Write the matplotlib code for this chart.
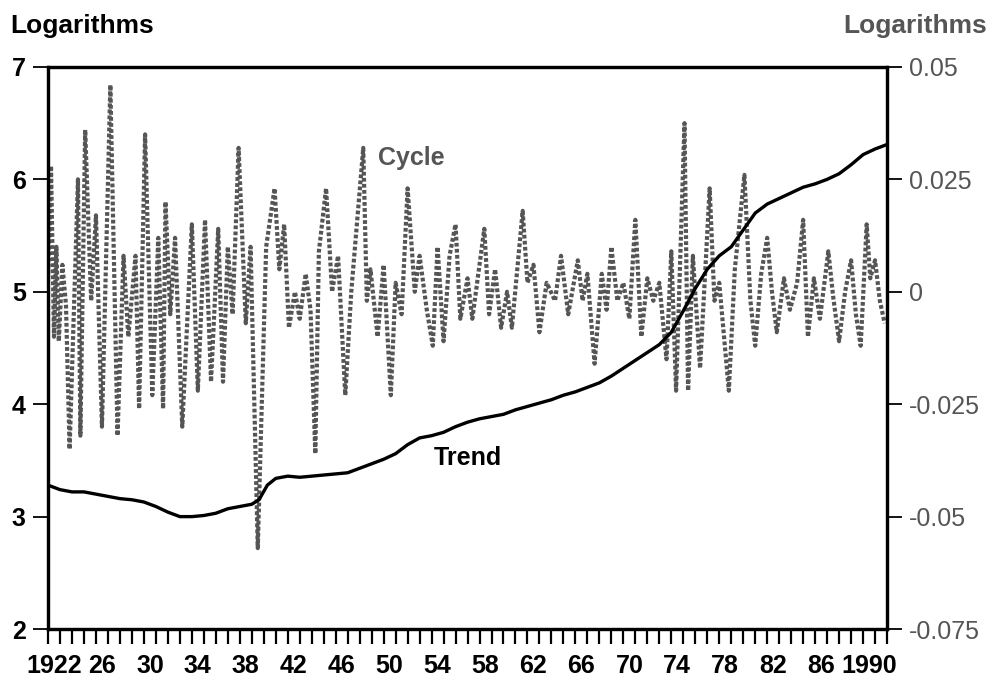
import matplotlib
matplotlib.use("Agg")
import matplotlib.pyplot as plt

# Trend (left axis, logarithms)
trend_years = [1922, 1923, 1924, 1925, 1926, 1927, 1928, 1929, 1930, 1931, 1932, 1933,
               1934, 1935, 1936, 1937, 1938, 1939, 1939.6, 1940.3, 1941, 1942, 1943,
               1944, 1945, 1946, 1947, 1948, 1949, 1950, 1951, 1952, 1953, 1954, 1955,
               1956, 1957, 1958, 1959, 1960, 1961, 1962, 1963, 1964, 1965, 1966, 1967,
               1968, 1969, 1970, 1971, 1972, 1973, 1974, 1975, 1976, 1977, 1978, 1979,
               1980, 1981, 1982, 1983, 1984, 1985, 1986, 1987, 1988, 1989, 1990, 1991,
               1992]
trend_vals = [3.28, 3.24, 3.22, 3.22, 3.20, 3.18, 3.16, 3.15, 3.13, 3.09, 3.04, 3.00,
              3.00, 3.01, 3.03, 3.07, 3.09, 3.11, 3.15, 3.28, 3.34, 3.36, 3.35,
              3.36, 3.37, 3.38, 3.39, 3.43, 3.47, 3.51, 3.56, 3.64, 3.70, 3.72, 3.75,
              3.80, 3.84, 3.87, 3.89, 3.91, 3.95, 3.98, 4.01, 4.04, 4.08, 4.11, 4.15,
              4.19, 4.25, 4.32, 4.39, 4.46, 4.53, 4.64, 4.83, 5.03, 5.20, 5.32, 5.40,
              5.55, 5.70, 5.78, 5.83, 5.88, 5.93, 5.96, 6.00, 6.05, 6.13, 6.22, 6.27,
              6.31]

# Cycle (right axis), turning points
cycle_years = [1922.0, 1922.25, 1922.5, 1922.7, 1922.9, 1923.2, 1923.5, 1923.8, 1924.5, 1924.7,
               1925.1, 1925.6, 1926.0, 1926.5, 1927.2, 1927.8, 1928.3, 1928.7, 1929.3, 1929.6,
               1930.1, 1930.7, 1931.2, 1931.6, 1931.8, 1932.2, 1932.6, 1933.2, 1934.0, 1934.5,
               1935.1, 1935.6, 1936.2, 1936.6, 1937.0, 1937.4, 1937.9, 1938.5, 1938.9, 1939.5,
               1940.2, 1940.9, 1941.3, 1941.7, 1942.1, 1942.6, 1943.0, 1943.5, 1943.9, 1944.3,
               1944.6, 1945.2, 1945.7, 1946.2, 1946.8, 1947.3, 1948.3, 1948.6, 1948.9, 1949.5,
               1950.0, 1950.6, 1951.0, 1951.5, 1952.0, 1952.6, 1953.0, 1953.6, 1954.1, 1954.5,
               1955.0, 1955.5, 1956.0, 1956.4, 1957.0, 1957.4, 1958.4, 1958.8, 1959.3, 1959.8,
               1960.3, 1960.7, 1961.6, 1962.0, 1962.5, 1963.0, 1963.6, 1964.3, 1964.8, 1965.4,
               1966.2, 1966.6, 1967.0, 1967.6, 1968.2, 1968.6, 1969.0, 1969.5, 1970.0, 1970.5,
               1971.0, 1971.5, 1972.0, 1972.5, 1973.0, 1973.6, 1974.0, 1974.4, 1975.1, 1975.4,
               1975.8, 1976.4, 1977.2, 1977.6, 1978.0, 1978.8, 1979.3, 1980.1, 1980.6, 1981.0,
               1981.5, 1982.0, 1982.4, 1982.8, 1983.4, 1983.9, 1984.5, 1985.0, 1985.4, 1985.9,
               1986.4, 1987.1, 1987.5, 1988.0, 1988.5, 1989.0, 1989.4, 1989.8, 1990.3, 1990.6,
               1991.0, 1991.4, 1991.8]
cycle_vals = [0.004, 0.028, -0.010, 0.010, -0.011, 0.006, -0.003, -0.035, 0.025, -0.032,
              0.036, -0.002, 0.017, -0.030, 0.046, -0.032, 0.008, -0.010, 0.008, -0.026,
              0.035, -0.023, 0.012, -0.026, 0.020, -0.005, 0.012, -0.030, 0.015, -0.022,
              0.016, -0.020, 0.014, -0.020, 0.010, -0.005, 0.032, -0.007, 0.010, -0.057,
              0.010, 0.023, 0.005, 0.015, -0.008, 0.000, -0.006, 0.004, -0.004, -0.036,
              0.009, 0.023, 0.000, 0.008, -0.023, 0.000, 0.032, -0.002, 0.005, -0.010,
              0.006, -0.023, 0.002, -0.005, 0.023, 0.000, 0.008, -0.004, -0.012, 0.010,
              -0.011, 0.008, 0.015, -0.006, 0.003, -0.006, 0.014, -0.005, 0.005, -0.008,
              0.000, -0.008, 0.018, 0.002, 0.006, -0.009, 0.002, -0.002, 0.008, -0.005,
              0.007, -0.002, 0.004, -0.016, 0.004, -0.004, 0.010, -0.002, 0.002, -0.006,
              0.016, -0.010, 0.003, -0.002, 0.002, -0.015, 0.009, -0.022, 0.0375, -0.022,
              0.008, -0.017, 0.023, -0.002, 0.002, -0.022, 0.005, 0.026, -0.002, -0.012,
              0.004, 0.012, 0.000, -0.009, 0.003, -0.004, 0.002, 0.016, -0.010, 0.003,
              -0.006, 0.009, -0.001, -0.011, 0.000, 0.007, -0.005, -0.012, 0.015, 0.003,
              0.007, -0.002, -0.007]

label_years = [1922, 1926, 1930, 1934, 1938, 1942, 1946, 1950, 1954, 1958, 1962,
               1966, 1970, 1974, 1978, 1982, 1986, 1990]
label_text = ["1922", "26", "30", "34", "38", "42", "46", "50", "54", "58", "62",
              "66", "70", "74", "78", "82", "86", "1990"]

plt.rcParams["font.family"] = ["Liberation Sans", "DejaVu Sans"]
plt.rcParams["font.size"] = 18

gray = "#555555"

fig = plt.figure(figsize=(9.92, 6.83), dpi=100)
ax = fig.add_axes([0.0484, 0.079, 0.8458, 0.823])
ax2 = ax.twinx()
# trend drawn above the cycle dots
ax.set_zorder(ax2.get_zorder() + 1)
ax.patch.set_visible(False)

ax2.plot(cycle_years, cycle_vals, color=gray, lw=3.0,
         linestyle=(0, (0.9, 0.55)), dash_capstyle="butt")
ax.plot(trend_years, trend_vals, color="black", lw=2.4)

ax.set_xlim(1922, 1992)
ax.set_ylim(2, 7)
ax2.set_ylim(-0.075, 0.05)

ax.set_yticks([2, 3, 4, 5, 6, 7])
ax.set_yticklabels(["2", "3", "4", "5", "6", "7"], fontweight="bold")
ax2.set_yticks([-0.075, -0.05, -0.025, 0, 0.025, 0.05])
ax2.set_yticklabels(["-0.075", "-0.05", "-0.025", "0", "0.025", "0.05"], color=gray)

ax.set_xticks(range(1922, 1993))
ax.set_xticklabels([])
ax.set_xticks([y + 0.5 for y in label_years], minor=True)
ax.set_xticklabels(label_text, minor=True, fontweight="bold")
ax.tick_params(axis="x", which="major", direction="out", length=11, width=1.6)
ax.tick_params(axis="x", which="minor", length=0, pad=18)
ax.tick_params(axis="y", direction="out", length=11, width=1.3, pad=5)
ax2.tick_params(axis="y", direction="out", length=11, width=1.3, pad=5)

for a in (ax, ax2):
    for s in a.spines.values():
        s.set_linewidth(2.3)

ax.text(1949.5, 0.0298, "Cycle", transform=ax2.transData, color=gray,
        fontsize=18, fontweight="bold", va="center")
ax.text(1954.2, 3.52, "Trend", color="black", fontsize=18, fontweight="bold",
        va="center")

fig.text(0.01, 0.962, "Logarithms", fontsize=19, fontweight="bold", va="center")
fig.text(0.995, 0.962, "Logarithms", fontsize=19, fontweight="bold", color=gray,
         ha="right", va="center")

fig.savefig("out.png", dpi=100)
